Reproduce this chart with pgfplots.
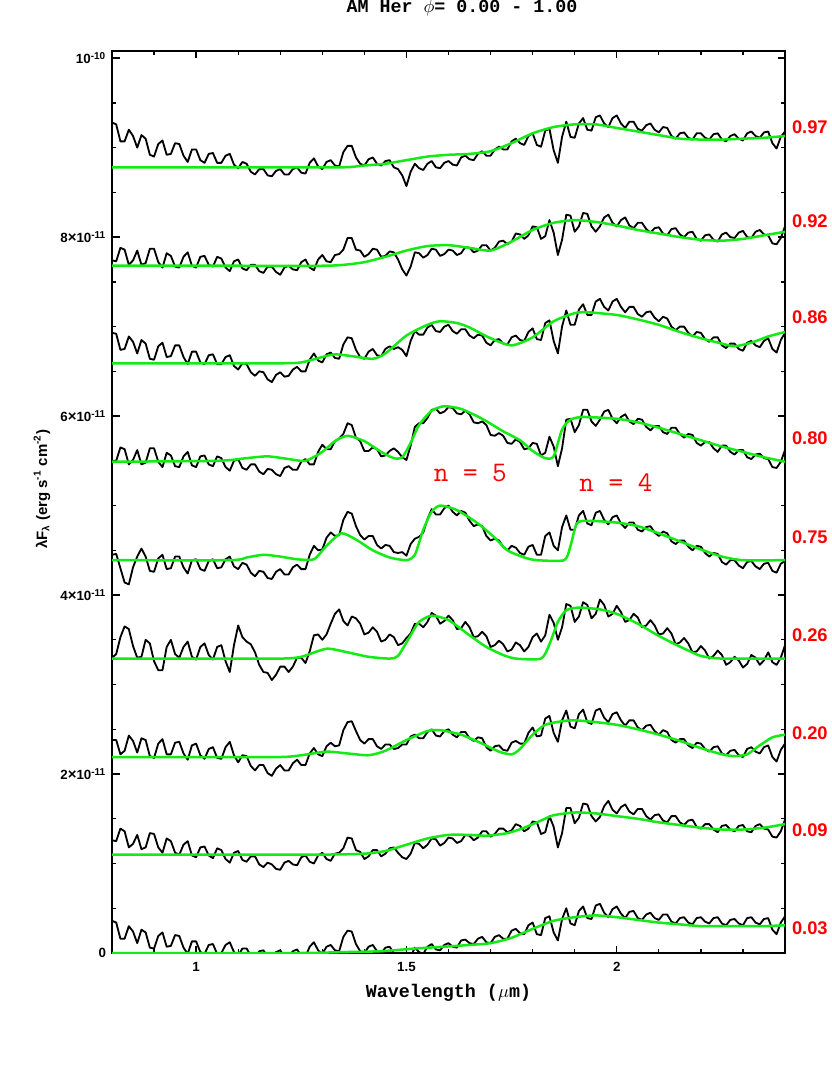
\documentclass[border=0pt]{standalone}
\usepackage{fontspec}
\setsansfont{Liberation Sans}
\newfontfamily\courb{Liberation Mono}
\usepackage{pgfplots}
\usepackage{pgfplotstable}
\pgfplotsset{compat=1.18}
\definecolor{fitgreen}{RGB}{20,235,20}

% observed spectra, lambda F_lambda in units of 1e-11, one column per phase
\pgfplotstableread{
x    s1   s2   s3   s4   s5   s6   s7   s8   s9
0.80 9.28 7.74 6.93 5.50 4.45 3.30 2.38 1.26 0.36
0.81 9.26 7.73 6.92 5.50 4.46 3.34 2.38 1.25 0.34
0.82 9.07 7.88 6.74 5.65 4.30 3.53 2.22 1.39 0.16
0.83 9.07 7.86 6.75 5.63 4.14 3.65 2.26 1.36 0.16
0.84 9.20 7.69 6.89 5.46 4.12 3.62 2.43 1.18 0.30
0.85 9.13 7.74 6.83 5.51 4.31 3.43 2.37 1.22 0.24
0.86 9.00 7.85 6.70 5.62 4.43 3.30 2.24 1.32 0.11
0.87 9.14 7.69 6.85 5.46 4.52 3.31 2.40 1.16 0.26
0.88 9.10 7.71 6.81 5.48 4.43 3.50 2.38 1.18 0.23
0.89 8.92 7.87 6.64 5.64 4.27 3.46 2.20 1.34 0.06
0.90 8.90 7.87 6.63 5.64 4.26 3.26 2.18 1.33 0.05
0.91 9.04 7.72 6.78 5.49 4.41 3.16 2.34 1.18 0.19
0.92 9.08 7.66 6.82 5.43 4.45 3.16 2.39 1.12 0.23
0.93 8.92 7.82 6.66 5.59 4.29 3.42 2.22 1.28 0.07
0.94 8.93 7.79 6.67 5.56 4.30 3.50 2.22 1.25 0.08
0.95 9.05 7.67 6.79 5.44 4.43 3.34 2.35 1.12 0.20
0.96 9.04 7.66 6.79 5.43 4.43 3.30 2.36 1.10 0.19
0.97 8.91 7.78 6.66 5.55 4.31 3.42 2.23 1.21 0.06
0.98 8.84 7.83 6.58 5.60 4.24 3.48 2.16 1.25 -0.01
0.99 8.98 7.68 6.72 5.45 4.39 3.31 2.32 1.09 0.13
1.00 8.98 7.66 6.72 5.43 4.40 3.28 2.34 1.07 0.13
1.01 8.86 7.78 6.60 5.55 4.29 3.42 2.21 1.18 0.01
1.02 8.83 7.79 6.58 5.56 4.27 3.46 2.17 1.19 -0.01
1.03 8.93 7.69 6.68 5.46 4.38 3.33 2.28 1.09 0.09
1.04 8.94 7.67 6.69 5.44 4.40 3.28 2.30 1.06 0.10
1.05 8.83 7.78 6.58 5.55 4.30 3.42 2.18 1.17 -0.01
1.06 8.83 7.76 6.58 5.53 4.31 3.44 2.17 1.15 0.00
1.07 8.91 7.66 6.66 5.43 4.40 3.26 2.30 1.05 0.09
1.08 8.93 7.62 6.68 5.39 4.43 3.14 2.36 1.01 0.12
1.09 8.81 7.73 6.56 5.50 4.32 3.44 2.21 1.12 0.01
1.10 8.77 7.75 6.52 5.52 4.29 3.66 2.13 1.14 -0.03
1.11 8.84 7.65 6.59 5.42 4.36 3.53 2.21 1.04 0.05
1.12 8.82 7.63 6.58 5.40 4.34 3.48 2.20 1.02 0.05
1.13 8.73 7.69 6.49 5.46 4.25 3.45 2.09 1.08 -0.03
1.14 8.70 7.69 6.45 5.46 4.21 3.36 2.04 1.08 -0.05
1.15 8.76 7.62 6.50 5.38 4.27 3.22 2.10 0.99 0.02
1.16 8.76 7.60 6.49 5.35 4.26 3.14 2.10 0.96 0.03
1.17 8.69 7.67 6.41 5.41 4.19 3.13 2.01 1.01 -0.04
1.18 8.68 7.67 6.38 5.40 4.18 3.05 1.98 0.99 -0.05
1.19 8.74 7.61 6.46 5.35 4.26 3.11 2.06 0.94 0.01
1.20 8.76 7.58 6.49 5.33 4.29 3.20 2.10 0.93 0.03
1.21 8.70 7.66 6.44 5.42 4.23 3.20 2.04 1.01 -0.04
1.22 8.70 7.68 6.45 5.44 4.23 3.14 2.04 1.03 -0.04
1.23 8.76 7.64 6.52 5.40 4.31 3.20 2.12 0.99 0.02
1.24 8.78 7.63 6.55 5.40 4.34 3.30 2.16 0.98 0.04
1.25 8.72 7.72 6.50 5.49 4.29 3.30 2.10 1.07 -0.03
1.26 8.71 7.75 6.50 5.52 4.29 3.24 2.10 1.09 -0.04
1.27 8.83 7.66 6.63 5.46 4.45 3.37 2.23 1.02 0.07
1.28 8.88 7.63 6.70 5.46 4.55 3.55 2.29 1.00 0.12
1.29 8.79 7.75 6.62 5.60 4.50 3.56 2.22 1.09 0.03
1.30 8.76 7.80 6.60 5.68 4.51 3.50 2.20 1.12 -0.01
1.31 8.84 7.73 6.69 5.63 4.64 3.56 2.31 1.05 0.07
1.32 8.86 7.72 6.71 5.63 4.70 3.68 2.35 1.03 0.09
1.33 8.80 7.80 6.65 5.72 4.66 3.79 2.31 1.11 0.03
1.34 8.79 7.81 6.64 5.75 4.67 3.84 2.32 1.12 0.02
1.35 8.95 7.86 6.80 5.80 4.84 3.71 2.49 1.17 0.18
1.36 9.02 7.99 6.88 5.92 4.93 3.66 2.58 1.29 0.25
1.37 9.02 7.99 6.87 5.90 4.91 3.76 2.59 1.28 0.24
1.38 8.89 7.86 6.74 5.76 4.77 3.74 2.48 1.15 0.10
1.39 8.82 7.85 6.66 5.72 4.67 3.68 2.38 1.13 0.02
1.40 8.80 7.78 6.64 5.61 4.62 3.56 2.34 1.05 0.00
1.41 8.87 7.81 6.72 5.61 4.66 3.58 2.39 1.08 0.07
1.42 8.89 7.87 6.75 5.65 4.66 3.64 2.39 1.15 0.09
1.43 8.82 7.86 6.68 5.63 4.56 3.59 2.31 1.15 0.02
1.44 8.80 7.78 6.67 5.55 4.52 3.48 2.28 1.08 0.00
1.45 8.85 7.79 6.75 5.56 4.56 3.50 2.33 1.11 0.06
1.46 8.86 7.84 6.78 5.61 4.55 3.56 2.33 1.17 0.07
1.47 8.78 7.83 6.75 5.64 4.48 3.53 2.28 1.18 0.00
1.48 8.76 7.75 6.77 5.60 4.47 3.44 2.29 1.12 -0.02
1.49 8.69 7.64 6.74 5.54 4.48 3.46 2.33 1.07 -0.08
1.50 8.57 7.57 6.67 5.51 4.44 3.52 2.33 1.05 -0.19
1.51 8.73 7.67 6.84 5.67 4.57 3.57 2.42 1.11 -0.04
1.52 8.82 7.83 6.95 5.88 4.63 3.68 2.44 1.23 0.06
1.53 8.77 7.82 6.91 5.92 4.65 3.68 2.40 1.22 0.01
1.54 8.75 7.77 6.91 5.92 4.70 3.64 2.40 1.17 -0.01
1.55 8.82 7.80 6.99 5.98 4.85 3.70 2.47 1.21 0.07
1.56 8.85 7.87 7.02 6.07 4.96 3.80 2.50 1.28 0.10
1.57 8.78 7.86 6.95 6.08 4.90 3.77 2.43 1.27 0.04
1.58 8.77 7.79 6.94 6.03 4.90 3.68 2.42 1.20 0.03
1.59 8.83 7.81 7.00 6.05 4.97 3.71 2.48 1.23 0.09
1.60 8.85 7.86 7.02 6.10 5.00 3.77 2.50 1.29 0.11
1.61 8.81 7.85 6.95 6.09 4.93 3.72 2.44 1.28 0.07
1.62 8.80 7.80 6.92 6.03 4.89 3.62 2.41 1.23 0.06
1.63 8.89 7.82 6.97 6.02 4.94 3.63 2.47 1.25 0.14
1.64 8.91 7.89 6.97 6.06 4.92 3.70 2.47 1.32 0.15
1.65 8.87 7.88 6.90 6.02 4.83 3.64 2.40 1.31 0.11
1.66 8.86 7.83 6.87 5.93 4.77 3.53 2.37 1.26 0.10
1.67 8.93 7.85 6.91 5.92 4.79 3.54 2.41 1.29 0.16
1.68 8.96 7.91 6.90 5.94 4.77 3.59 2.40 1.36 0.18
1.69 8.91 7.91 6.82 5.90 4.66 3.54 2.30 1.36 0.12
1.70 8.91 7.85 6.79 5.79 4.61 3.42 2.26 1.30 0.11
1.71 8.98 7.88 6.85 5.78 4.63 3.44 2.31 1.33 0.18
1.72 9.01 7.95 6.86 5.81 4.61 3.49 2.32 1.39 0.20
1.73 8.98 7.96 6.81 5.78 4.54 3.45 2.27 1.39 0.16
1.74 8.98 7.92 6.80 5.70 4.50 3.37 2.26 1.35 0.16
1.75 9.07 7.95 6.88 5.69 4.55 3.39 2.35 1.37 0.25
1.76 9.10 8.04 6.90 5.74 4.53 3.47 2.37 1.44 0.27
1.77 9.05 8.03 6.85 5.71 4.47 3.44 2.34 1.42 0.22
1.78 9.03 7.98 6.84 5.63 4.45 3.37 2.34 1.36 0.21
1.79 9.13 8.02 6.94 5.64 4.54 3.42 2.46 1.39 0.31
1.80 9.16 8.12 6.98 5.70 4.56 3.53 2.52 1.47 0.34
1.81 9.03 8.11 6.86 5.69 4.45 3.57 2.42 1.46 0.21
1.82 9.01 7.98 6.85 5.56 4.45 3.48 2.43 1.33 0.20
1.83 9.19 8.01 7.04 5.59 4.66 3.55 2.62 1.35 0.39
1.84 9.21 8.19 7.07 5.77 4.70 3.78 2.65 1.53 0.41
1.85 8.97 8.05 6.84 5.66 4.55 3.69 2.46 1.41 0.23
1.86 8.83 7.80 6.70 5.44 4.50 3.50 2.36 1.18 0.14
1.87 9.12 7.97 7.00 5.64 4.76 3.64 2.60 1.34 0.38
1.88 9.29 8.25 7.18 5.96 4.89 3.90 2.71 1.62 0.50
1.89 9.12 8.24 7.02 5.97 4.73 3.88 2.53 1.62 0.33
1.90 9.11 8.06 7.02 5.82 4.73 3.70 2.51 1.45 0.31
1.91 9.27 8.12 7.19 5.90 4.89 3.76 2.67 1.51 0.47
1.92 9.33 8.27 7.25 6.07 4.94 3.92 2.72 1.67 0.52
1.93 9.20 8.26 7.13 6.07 4.80 3.89 2.58 1.66 0.39
1.94 9.19 8.12 7.13 5.94 4.78 3.74 2.56 1.53 0.38
1.95 9.34 8.06 7.28 5.89 4.92 3.79 2.71 1.47 0.53
1.96 9.36 8.12 7.31 5.96 4.94 3.95 2.73 1.52 0.55
1.97 9.27 8.22 7.22 6.05 4.84 3.89 2.63 1.64 0.45
1.98 9.23 8.25 7.18 6.07 4.79 3.76 2.58 1.70 0.40
1.99 9.33 8.16 7.28 5.97 4.87 3.79 2.67 1.60 0.49
2.00 9.36 8.12 7.31 5.92 4.89 3.88 2.69 1.56 0.52
2.01 9.27 8.19 7.22 5.99 4.80 3.81 2.60 1.63 0.44
2.02 9.22 8.22 7.16 6.02 4.75 3.70 2.54 1.66 0.39
2.03 9.29 8.13 7.22 5.94 4.81 3.72 2.60 1.58 0.46
2.04 9.29 8.10 7.22 5.91 4.81 3.79 2.60 1.55 0.47
2.05 9.21 8.16 7.14 5.97 4.73 3.75 2.52 1.61 0.39
2.06 9.19 8.16 7.11 5.96 4.71 3.64 2.49 1.61 0.37
2.07 9.25 8.09 7.16 5.88 4.76 3.66 2.54 1.53 0.43
2.08 9.27 8.05 7.17 5.84 4.77 3.72 2.55 1.49 0.45
2.09 9.20 8.10 7.10 5.89 4.70 3.66 2.48 1.54 0.39
2.10 9.17 8.11 7.06 5.89 4.66 3.56 2.44 1.55 0.37
2.11 9.23 8.04 7.11 5.82 4.71 3.57 2.49 1.48 0.43
2.12 9.22 8.02 7.09 5.80 4.69 3.63 2.47 1.46 0.43
2.13 9.13 8.09 7.00 5.87 4.60 3.57 2.38 1.53 0.35
2.14 9.10 8.10 6.96 5.87 4.57 3.45 2.35 1.53 0.33
2.15 9.16 8.03 7.00 5.80 4.61 3.47 2.39 1.46 0.39
2.16 9.17 8.00 7.00 5.76 4.61 3.52 2.39 1.43 0.40
2.17 9.11 8.05 6.93 5.80 4.54 3.46 2.32 1.48 0.34
2.18 9.09 8.06 6.89 5.79 4.50 3.36 2.29 1.49 0.32
2.19 9.16 7.98 6.94 5.70 4.55 3.37 2.35 1.41 0.39
2.20 9.16 7.96 6.93 5.67 4.54 3.43 2.34 1.39 0.40
2.21 9.11 8.02 6.86 5.71 4.47 3.38 2.28 1.44 0.35
2.22 9.09 8.03 6.83 5.71 4.43 3.29 2.25 1.44 0.33
2.23 9.15 7.97 6.88 5.64 4.47 3.32 2.30 1.38 0.39
2.24 9.16 7.95 6.88 5.60 4.46 3.38 2.31 1.35 0.40
2.25 9.09 8.03 6.79 5.67 4.37 3.33 2.23 1.42 0.33
2.26 9.07 8.05 6.76 5.67 4.34 3.22 2.21 1.43 0.31
2.27 9.13 8.00 6.81 5.60 4.39 3.25 2.26 1.38 0.37
2.28 9.15 7.99 6.81 5.57 4.39 3.31 2.27 1.36 0.38
2.29 9.10 8.05 6.75 5.62 4.33 3.27 2.21 1.42 0.33
2.30 9.08 8.07 6.73 5.62 4.30 3.19 2.19 1.43 0.31
2.31 9.16 8.00 6.82 5.54 4.37 3.23 2.28 1.36 0.39
2.32 9.18 7.99 6.84 5.52 4.38 3.33 2.30 1.35 0.40
2.33 9.13 8.06 6.79 5.57 4.32 3.30 2.25 1.42 0.34
2.34 9.11 8.08 6.77 5.58 4.29 3.22 2.23 1.44 0.32
2.35 9.17 8.03 6.84 5.53 4.35 3.27 2.30 1.39 0.38
2.36 9.18 8.02 6.87 5.52 4.36 3.36 2.32 1.38 0.39
2.37 9.05 7.93 6.75 5.43 4.27 3.25 2.19 1.30 0.26
2.38 8.99 7.92 6.71 5.42 4.25 3.22 2.14 1.29 0.21
2.39 9.12 7.99 6.85 5.49 4.35 3.30 2.27 1.36 0.34
2.40 9.18 8.12 6.93 5.62 4.38 3.44 2.34 1.49 0.41
}\spectra

\begin{document}
\begin{tikzpicture}
\begin{axis}[
  name=ax,
  width=403.8pt, height=541.2pt, scale only axis,
  xmin=0.8, xmax=2.4, ymin=0, ymax=10.08,
  axis line style={line width=1.1pt},
  tick align=inside,
  major tick length=4.5pt, minor tick length=2.2pt,
  every tick/.style={black, line width=0.8pt},
  xtick={1,1.5,2}, xticklabels={1,1.5,2},
  minor xtick={0.8,0.9,...,2.4},
  ytick={0,2,4,6,8,10},
  yticklabels={0,
    2{\small×}10\textsuperscript{-11},
    4{\small×}10\textsuperscript{-11},
    6{\small×}10\textsuperscript{-11},
    8{\small×}10\textsuperscript{-11},
    10\textsuperscript{-10}},
  minor ytick={0,0.5,...,10},
  ticklabel style={font=\sffamily\bfseries\fontsize{8}{9}\selectfont},
  xticklabel style={yshift=-2pt},
  xlabel={Wavelength ($\mu$m)},
  xlabel style={font=\courb\bfseries\fontsize{11}{13}\selectfont,
    at={(axis description cs:0.5,-0.044)}, anchor=center},
  ylabel={λF\textsubscript{λ} (erg s\textsuperscript{-1} cm\textsuperscript{-2})},
  ylabel style={font=\sffamily\bfseries\fontsize{9}{11}\selectfont,
    at={(axis description cs:-0.104,0.514)}, anchor=center},
  clip mode=individual,
  every axis plot/.append style={line join=round},
]
\addplot[black, line width=1.1pt] table[x=x, y=s1] {\spectra};
\addplot[black, line width=1.1pt] table[x=x, y=s2] {\spectra};
\addplot[black, line width=1.1pt] table[x=x, y=s3] {\spectra};
\addplot[black, line width=1.1pt] table[x=x, y=s4] {\spectra};
\addplot[black, line width=1.1pt] table[x=x, y=s5] {\spectra};
\addplot[black, line width=1.1pt] table[x=x, y=s6] {\spectra};
\addplot[black, line width=1.1pt] table[x=x, y=s7] {\spectra};
\addplot[black, line width=1.1pt] table[x=x, y=s8] {\spectra};
\addplot[black, line width=1.1pt] table[x=x, y=s9] {\spectra};

% model fits
\addplot[fitgreen, line width=1.5pt, smooth, tension=0.4] coordinates {
(0.80,8.78) (1.00,8.78) (1.20,8.78) (1.35,8.78) (1.40,8.80) (1.45,8.82) (1.50,8.86)
(1.55,8.90) (1.60,8.92) (1.65,8.93) (1.70,8.96) (1.75,9.05) (1.80,9.16) (1.85,9.23)
(1.90,9.26) (1.95,9.26) (2.00,9.22) (2.05,9.18) (2.10,9.14) (2.15,9.10) (2.20,9.09)
(2.25,9.09) (2.30,9.10) (2.35,9.11) (2.40,9.13)};
\addplot[fitgreen, line width=1.5pt, smooth, tension=0.4] coordinates {
(0.80,7.68) (1.10,7.68) (1.30,7.68) (1.35,7.69) (1.40,7.72) (1.45,7.78) (1.50,7.85)
(1.55,7.90) (1.60,7.91) (1.65,7.88) (1.70,7.85) (1.75,7.95) (1.80,8.08) (1.85,8.16)
(1.90,8.19) (1.95,8.17) (2.00,8.13) (2.05,8.08) (2.10,8.04) (2.15,8.00) (2.20,7.97)
(2.25,7.96) (2.30,7.98) (2.35,8.02) (2.40,8.06)};
\addplot[fitgreen, line width=1.5pt, smooth, tension=0.4] coordinates {
(0.80,6.59) (1.00,6.59) (1.20,6.59) (1.25,6.60) (1.30,6.66) (1.33,6.69) (1.37,6.67)
(1.42,6.64) (1.45,6.70) (1.50,6.90) (1.55,7.02) (1.58,7.06) (1.62,7.04) (1.65,6.99)
(1.70,6.87) (1.75,6.79) (1.80,6.88) (1.85,7.06) (1.90,7.15) (1.93,7.16) (2.00,7.13)
(2.05,7.08) (2.10,7.02) (2.15,6.94) (2.20,6.87) (2.25,6.81) (2.28,6.78) (2.32,6.82)
(2.36,6.89) (2.40,6.94)};
\addplot[fitgreen, line width=1.5pt, smooth, tension=0.4] coordinates {
(0.80,5.49) (1.05,5.50) (1.12,5.53) (1.17,5.55) (1.22,5.52) (1.26,5.50) (1.30,5.60)
(1.33,5.72) (1.36,5.78) (1.40,5.72) (1.44,5.60) (1.47,5.53) (1.49,5.54) (1.51,5.70)
(1.53,5.90) (1.56,6.06) (1.59,6.11) (1.63,6.08) (1.68,5.97) (1.73,5.83) (1.77,5.73)
(1.80,5.61) (1.83,5.53) (1.85,5.55) (1.87,5.85) (1.89,5.96) (1.92,5.99) (2.00,5.97)
(2.05,5.93) (2.10,5.87) (2.15,5.80) (2.20,5.73) (2.25,5.66) (2.30,5.60) (2.35,5.54)
(2.40,5.49)};
\addplot[fitgreen, line width=1.5pt, smooth, tension=0.4] coordinates {
(0.80,4.39) (1.08,4.39) (1.12,4.42) (1.16,4.45) (1.20,4.43) (1.24,4.40) (1.28,4.40)
(1.31,4.55) (1.345,4.69) (1.38,4.62) (1.42,4.50) (1.46,4.42) (1.50,4.39) (1.52,4.45)
(1.54,4.73) (1.56,4.93) (1.58,5.00) (1.62,4.95) (1.67,4.80) (1.71,4.64) (1.74,4.50)
(1.78,4.42) (1.81,4.39) (1.875,4.39) (1.89,4.55) (1.905,4.80) (1.93,4.83) (2.00,4.81)
(2.05,4.77) (2.10,4.69) (2.15,4.60) (2.20,4.51) (2.25,4.43) (2.30,4.39) (2.40,4.39)};
\addplot[fitgreen, line width=1.5pt, smooth, tension=0.4] coordinates {
(0.80,3.29) (1.00,3.29) (1.20,3.29) (1.25,3.31) (1.31,3.40) (1.36,3.36) (1.41,3.31)
(1.46,3.29) (1.48,3.32) (1.51,3.55) (1.53,3.70) (1.56,3.77) (1.60,3.72) (1.65,3.55)
(1.69,3.42) (1.73,3.33) (1.76,3.29) (1.82,3.29) (1.84,3.45) (1.86,3.70) (1.88,3.83)
(1.91,3.86) (1.96,3.84) (2.00,3.79) (2.05,3.68) (2.09,3.57) (2.13,3.47) (2.17,3.38)
(2.20,3.32) (2.25,3.29) (2.40,3.29)};
\addplot[fitgreen, line width=1.5pt, smooth, tension=0.4] coordinates {
(0.80,2.19) (1.00,2.19) (1.20,2.19) (1.25,2.21) (1.31,2.25) (1.36,2.23) (1.41,2.21)
(1.45,2.26) (1.50,2.38) (1.55,2.48) (1.58,2.49) (1.63,2.44) (1.68,2.34) (1.72,2.25)
(1.75,2.22) (1.77,2.28) (1.80,2.44) (1.83,2.55) (1.87,2.59) (1.90,2.60) (1.95,2.58)
(2.00,2.55) (2.05,2.50) (2.10,2.44) (2.15,2.37) (2.20,2.29) (2.25,2.22) (2.28,2.20)
(2.31,2.22) (2.34,2.32) (2.37,2.41) (2.40,2.44)};
\addplot[fitgreen, line width=1.5pt, smooth, tension=0.4] coordinates {
(0.80,1.10) (1.00,1.10) (1.30,1.10) (1.40,1.11) (1.45,1.14) (1.50,1.21) (1.55,1.28)
(1.60,1.32) (1.65,1.32) (1.69,1.31) (1.74,1.34) (1.78,1.40) (1.82,1.48) (1.85,1.54)
(1.90,1.57) (1.95,1.56) (2.00,1.53) (2.05,1.50) (2.10,1.46) (2.15,1.43) (2.20,1.40)
(2.25,1.38) (2.30,1.38) (2.35,1.40) (2.40,1.44)};
\addplot[fitgreen, line width=1.5pt, smooth, tension=0.4] coordinates {
(0.80,0.00) (1.00,0.00) (1.25,0.00) (1.35,0.01) (1.44,0.02) (1.52,0.05) (1.59,0.07)
(1.65,0.09) (1.70,0.11) (1.75,0.17) (1.80,0.27) (1.85,0.36) (1.90,0.40) (1.95,0.42)
(2.00,0.40) (2.05,0.37) (2.10,0.34) (2.15,0.32) (2.20,0.30) (2.25,0.30) (2.30,0.30)
(2.35,0.30) (2.40,0.31)};

% phase labels on the right
\begin{scope}[every node/.style={anchor=west, inner sep=0pt, xshift=4pt, text=red,
    font=\sffamily\bfseries\fontsize{11}{13}\selectfont}]
\node at (axis cs:2.4,9.23) {0.97};
\node at (axis cs:2.4,8.18) {0.92};
\node at (axis cs:2.4,7.10) {0.86};
\node at (axis cs:2.4,5.75) {0.80};
\node at (axis cs:2.4,4.65) {0.75};
\node at (axis cs:2.4,3.55) {0.26};
\node at (axis cs:2.4,2.46) {0.20};
\node at (axis cs:2.4,1.37) {0.09};
\node at (axis cs:2.4,0.28) {0.03};
\end{scope}
\node[text=red, font=\ttfamily\fontsize{17}{19}\selectfont] at (axis cs:1.652,5.36) {n = 5};
\node[text=red, font=\ttfamily\fontsize{17}{19}\selectfont] at (axis cs:1.998,5.26) {n = 4};
\node[font=\courb\bfseries\fontsize{11}{13}\selectfont]
  at (axis description cs:0.52,1.048) {AM Her $\phi$= 0.00 - 1.00};
\end{axis}
\pgfresetboundingbox
\path ([shift={(-67.2pt,-79.8pt)}]ax.south west) rectangle ([shift={(27.6pt,30.6pt)}]ax.north east);
\end{tikzpicture}
\end{document}
